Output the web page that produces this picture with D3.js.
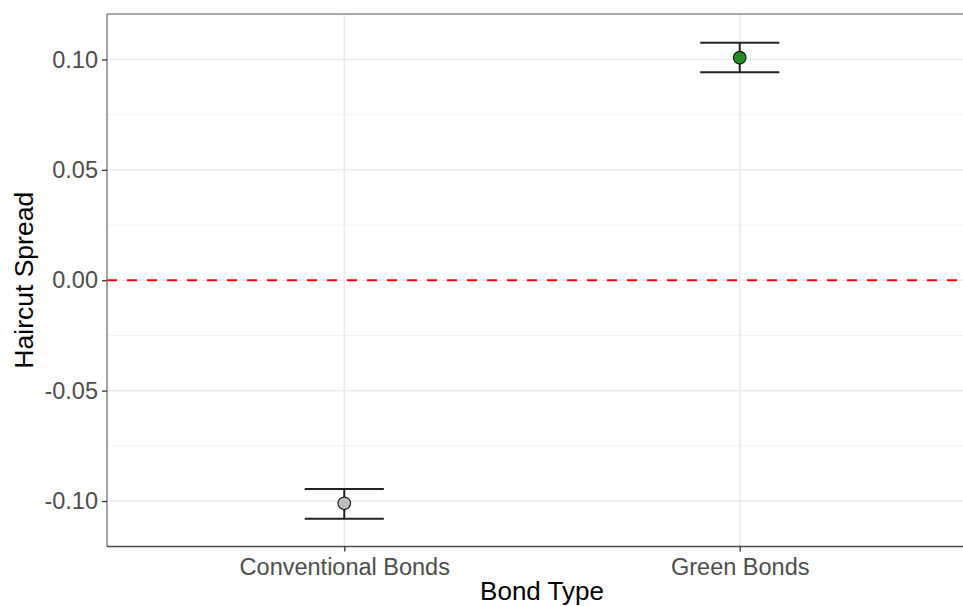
<!DOCTYPE html>
<html>
<head>
<meta charset="utf-8">
<script src="https://cdn.jsdelivr.net/npm/d3@7"></script>
<style>
  html, body { margin: 0; padding: 0; background: #fff; }
  svg { display: block; font-family: "Liberation Sans", Arial, Helvetica, sans-serif; }
</style>
</head>
<body>
<svg id="chart" width="963" height="606"></svg>
<script>
// ---- data ----
const categories = ["Conventional Bonds", "Green Bonds"];
const estimates = [-0.1010, 0.1008];
const lowerCI = [-0.1080, 0.0942];
const upperCI = [-0.0945, 0.1076];
const pointColors = ["#BEBEBE", "#228B22"];
const yTicks = [-0.10, -0.05, 0.00, 0.05, 0.10];
const yTickLabels = ["-0.10", "-0.05", "0.00", "0.05", "0.10"];
const yMinorTicks = [-0.075, -0.025, 0.025, 0.075];
const referenceValue = 0;
const xTitle = "Bond Type";
const yTitle = "Haircut Spread";

// ---- layout ----
const W = 963, H = 606;
const panel = { left: 107, top: 14, right: 977, bottom: 546.5 };

const svg = d3.select("#chart");

const x = d3.scalePoint().domain(categories).range([panel.left, panel.right]).padding(0.6);
const y = d3.scaleLinear().domain([-0.1206, 0.1206]).range([panel.bottom, panel.top]);

const data = categories.map((c, i) => ({ cat: c, est: estimates[i], lo: lowerCI[i], hi: upperCI[i], fill: pointColors[i] }));

// panel background
svg.append("rect").attr("x", panel.left).attr("y", panel.top)
  .attr("width", panel.right - panel.left).attr("height", panel.bottom - panel.top)
  .attr("fill", "#fff");

// minor gridlines
svg.append("g").selectAll("line").data(yMinorTicks).join("line")
  .attr("x1", panel.left).attr("x2", panel.right)
  .attr("y1", d => y(d)).attr("y2", d => y(d))
  .attr("stroke", "#F4F4F4").attr("stroke-width", 1);

// major gridlines
svg.append("g").selectAll("line").data(yTicks).join("line")
  .attr("x1", panel.left).attr("x2", panel.right)
  .attr("y1", d => y(d)).attr("y2", d => y(d))
  .attr("stroke", "#EBEBEB").attr("stroke-width", 1.5);
svg.append("g").selectAll("line").data(categories).join("line")
  .attr("x1", d => x(d)).attr("x2", d => x(d))
  .attr("y1", panel.top).attr("y2", panel.bottom)
  .attr("stroke", "#EBEBEB").attr("stroke-width", 1.5);

// reference line
svg.append("line")
  .attr("x1", panel.left).attr("x2", panel.right)
  .attr("y1", y(referenceValue)).attr("y2", y(referenceValue))
  .attr("stroke", "#FF0000").attr("stroke-width", 2.2)
  .attr("stroke-dasharray", "10,10");

// error bars
const capHalf = (x.step() * 0.2) / 2;
const eb = svg.append("g").attr("stroke", "#222").attr("stroke-width", 2);
eb.selectAll("line.v").data(data).join("line").attr("class", "v")
  .attr("x1", d => x(d.cat)).attr("x2", d => x(d.cat))
  .attr("y1", d => y(d.lo)).attr("y2", d => y(d.hi));
eb.selectAll("line.lo").data(data).join("line").attr("class", "lo")
  .attr("x1", d => x(d.cat) - capHalf).attr("x2", d => x(d.cat) + capHalf)
  .attr("y1", d => y(d.lo)).attr("y2", d => y(d.lo));
eb.selectAll("line.hi").data(data).join("line").attr("class", "hi")
  .attr("x1", d => x(d.cat) - capHalf).attr("x2", d => x(d.cat) + capHalf)
  .attr("y1", d => y(d.hi)).attr("y2", d => y(d.hi));

// points
svg.append("g").selectAll("circle").data(data).join("circle")
  .attr("cx", d => x(d.cat)).attr("cy", d => y(d.est)).attr("r", 6.3)
  .attr("fill", d => d.fill).attr("stroke", "#111").attr("stroke-width", 1.1);

// panel border (top/left gray, bottom darker)
svg.append("line").attr("x1", panel.left).attr("x2", panel.right)
  .attr("y1", panel.top).attr("y2", panel.top).attr("stroke", "#8C8C8C").attr("stroke-width", 1.4);
svg.append("line").attr("x1", panel.left).attr("x2", panel.left)
  .attr("y1", panel.top).attr("y2", panel.bottom).attr("stroke", "#7A7A7A").attr("stroke-width", 1.4);
svg.append("line").attr("x1", panel.right).attr("x2", panel.right)
  .attr("y1", panel.top).attr("y2", panel.bottom).attr("stroke", "#8C8C8C").attr("stroke-width", 1.4);

// y axis
const yAxis = svg.append("g").attr("transform", `translate(${panel.left},0)`)
  .call(d3.axisLeft(y).tickValues(yTicks).tickFormat((d, i) => yTickLabels[i]).tickSize(5).tickPadding(4));
yAxis.select(".domain").remove();
yAxis.selectAll(".tick line").attr("stroke", "#333").attr("stroke-width", 1.3);
yAxis.selectAll(".tick text").attr("fill", "#4D4D4D").attr("font-size", 23.5)
  .attr("font-family", "'Liberation Sans', Arial, sans-serif");

// x axis
const xAxis = svg.append("g").attr("transform", `translate(0,${panel.bottom})`)
  .call(d3.axisBottom(x).tickSize(5).tickPadding(7));
xAxis.select(".domain").attr("stroke", "#4D4D4D").attr("stroke-width", 1.4)
  .attr("d", `M${panel.left},0H${panel.right}`);
xAxis.selectAll(".tick line").attr("stroke", "#333").attr("stroke-width", 1.3);
xAxis.selectAll(".tick text").attr("fill", "#4D4D4D").attr("font-size", 23.5)
  .attr("font-family", "'Liberation Sans', Arial, sans-serif");

// axis titles
svg.append("text").attr("x", (panel.left + panel.right) / 2).attr("y", 599.5)
  .attr("text-anchor", "middle").attr("font-size", 26).attr("fill", "#000").text(xTitle);
svg.append("text").attr("transform", `translate(33,${(panel.top + panel.bottom) / 2}) rotate(-90)`)
  .attr("text-anchor", "middle").attr("font-size", 26.5).attr("fill", "#000").text(yTitle);
</script>
</body>
</html>
